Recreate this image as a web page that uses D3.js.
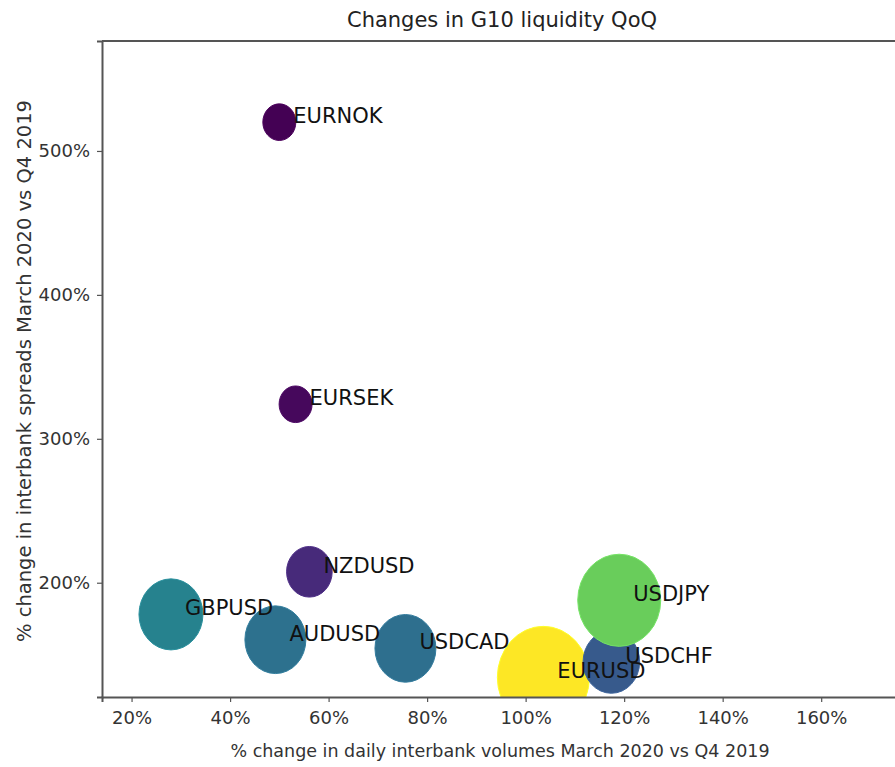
<!DOCTYPE html>
<html>
<head>
<meta charset="utf-8">
<script src="https://cdn.jsdelivr.net/npm/d3@7"></script>
<style>
	body { margin: 0; background: #fff; }
	text { font-family: "DejaVu Sans", sans-serif; }
</style>
</head>
<body>
<svg id="chart"></svg>
<script>
// currency pairs, drawn in this order
const pairs = ["EURNOK", "EURSEK", "NZDUSD", "GBPUSD", "AUDUSD", "USDCAD", "EURUSD", "USDCHF", "USDJPY"];
// % change in daily interbank volumes (x)
const volumeChange = [50, 53.3, 56.1, 28, 49.2, 75.6, 103.6, 117.4, 119];
// % change in interbank spreads (y)
const spreadChange = [520, 324, 207.6, 178, 160.4, 154.4, 134.2, 145, 187.8];
// bubble size
const bubbleSize = [272, 272, 520, 1024, 930, 930, 2116, 800, 1722];
// colour value (viridis)
const colorValue = [0, 0.02, 0.12, 0.44, 0.37, 0.36, 1, 0.28, 0.77];

const xTicks = [20, 40, 60, 80, 100, 120, 140, 160];
const yTicks = [200, 300, 400, 500];

const width = 895, height = 767;
const margin = { top: 41, right: -5, bottom: 70, left: 102 };

const svg = d3.select("#chart")
	.attr("width", width)
	.attr("height", height);

const data = pairs.map((p, i) => ({
	name: p,
	x: volumeChange[i],
	y: spreadChange[i],
	size: bubbleSize[i],
	c: colorValue[i]
}));

const x = d3.scaleLinear()
	.domain([14, 176])
	.range([margin.left, width - margin.right]);

const y = d3.scaleLinear()
	.domain([120.6, 576.4])
	.range([height - margin.bottom, margin.top]);

const r = d3.scaleSqrt()
	.domain([0, d3.max(bubbleSize)])
	.range([0, 46]);

//clip bubbles to the plot area
svg.append("clipPath")
	.attr("id", "plotClip")
	.append("rect")
	.attr("x", margin.left)
	.attr("y", margin.top)
	.attr("width", width - margin.right - margin.left)
	.attr("height", height - margin.bottom - margin.top);

const bubbles = svg.append("g").attr("clip-path", "url(#plotClip)");
bubbles.selectAll("ellipse")
	.data(data)
	.enter()
	.append("ellipse")
	.attr("cx", d => x(d.x))
	.attr("cy", d => y(d.y))
	.attr("rx", d => r(d.size))
	.attr("ry", d => r(d.size) * 1.11)
	.attr("fill", d => d3.interpolateViridis(d.c))
	.attr("stroke", d => d3.color(d3.interpolateViridis(d.c)).brighter(0.3))
	.attr("stroke-width", 1);

svg.append("g")
	.selectAll("text")
	.data(data)
	.enter()
	.append("text")
	.attr("x", d => x(d.x) + 14)
	.attr("y", d => y(d.y) + 1)
	.attr("font-size", 21)
	.attr("fill", "#111")
	.text(d => d.name);

//axes
const xAxis = svg.append("g")
	.attr("transform", `translate(0, ${height - margin.bottom})`)
	.call(d3.axisBottom(x).tickValues(xTicks).tickFormat(d => d + "%").tickSizeOuter(0).tickSize(5).tickPadding(9));

const yAxis = svg.append("g")
	.attr("transform", `translate(${margin.left}, 0)`)
	.call(d3.axisLeft(y).tickValues(yTicks).tickFormat(d => d + "%").tickSizeOuter(0).tickSize(5).tickPadding(7));

[xAxis, yAxis].forEach(a => {
	a.select(".domain").attr("stroke", "#555").attr("stroke-width", 2);
	a.selectAll(".tick line").attr("stroke", "#555").attr("stroke-width", 1.2);
	a.selectAll(".tick text")
		.attr("font-size", 18)
		.attr("font-family", "DejaVu Sans")
		.attr("fill", "#333");
});

//top frame line
svg.append("line")
	.attr("x1", margin.left)
	.attr("x2", width)
	.attr("y1", margin.top)
	.attr("y2", margin.top)
	.attr("stroke", "#555")
	.attr("stroke-width", 2);

//title and axis labels
svg.append("text")
	.attr("x", 502)
	.attr("y", 27)
	.attr("text-anchor", "middle")
	.attr("font-size", 21)
	.attr("fill", "#222")
	.text("Changes in G10 liquidity QoQ");

svg.append("text")
	.attr("x", 500)
	.attr("y", 757)
	.attr("text-anchor", "middle")
	.attr("font-size", 17.5)
	.attr("fill", "#333")
	.text("% change in daily interbank volumes March 2020 vs Q4 2019");

svg.append("text")
	.attr("transform", `translate(31, ${(margin.top + height - margin.bottom) / 2 + 2}) rotate(-90)`)
	.attr("text-anchor", "middle")
	.attr("font-size", 19.5)
	.attr("fill", "#333")
	.text("% change in interbank spreads March 2020 vs Q4 2019");
</script>
</body>
</html>
